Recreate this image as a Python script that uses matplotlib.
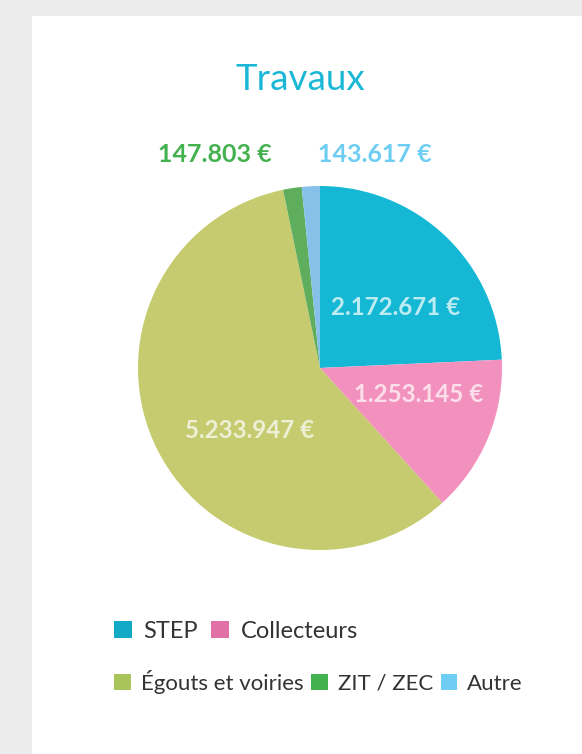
import matplotlib.pyplot as plt
from matplotlib.patches import Patch, Rectangle

# Données
categories = ["STEP", "Collecteurs", "Égouts et voiries", "ZIT / ZEC", "Autre"]
montants = [2172671, 1253145, 5233947, 147803, 143617]
etiquettes = ["2.172.671 €", "1.253.145 €", "5.233.947 €", "147.803 €", "143.617 €"]

couleurs_pie = ["#14b8d4", "#f291bd", "#c5cb6e", "#5fae5e", "#85c1e9"]
couleurs_legende = ["#12a9c6", "#e070a6", "#a9c45a", "#44b14f", "#6dcdf3"]

W, H = 582, 754
fig = plt.figure(figsize=(W / 100, H / 100), dpi=100)
fig.patch.set_facecolor("#ececec")

# panneau blanc
fig.add_artist(Rectangle((32 / W, 0), 1 - 32 / W, 1 - 16 / H,
                         transform=fig.transFigure, facecolor="white",
                         edgecolor="none", zorder=0))

fig.text(300 / W, 1 - 79 / H, "Travaux", ha="center", va="center",
         fontsize=26.5, color="#1ab8d6", family="Lato")

# camembert : centre (320, 368), rayon 182 px
cx, cy, r = 320, 368, 182
ax = fig.add_axes([(cx - r) / W, (H - cy - r) / H, 2 * r / W, 2 * r / H])
ax.pie(montants, colors=couleurs_pie, startangle=90, counterclock=False,
       wedgeprops={"linewidth": 0})
ax.set_xlim(-1, 1)
ax.set_ylim(-1, 1)
ax.set_aspect("equal")

# positions des étiquettes (pixels)
pos_labels = [(396, 308), (419, 395), (250, 431), (215, 155), (375, 155)]
for i, (lbl, (px, py)) in enumerate(zip(etiquettes, pos_labels)):
    x = (px - cx) / r
    y = (cy - py) / r
    if i < 3:
        ax.text(x, y, lbl, ha="center", va="center", fontsize=17.4,
                fontweight="bold", family="Lato", color="white", alpha=0.72)
    else:
        ax.text(x, y, lbl, ha="center", va="center", fontsize=18,
                fontweight="bold", family="Lato", color=couleurs_legende[i])

handles = [Patch(facecolor=c, edgecolor="none") for c in couleurs_legende]

opts = dict(loc="center left", frameon=False, borderpad=0, borderaxespad=0,
            handlelength=0.75, handleheight=0.75, labelcolor="#333333")
leg1 = fig.legend(handles[:2], categories[:2], ncol=2,
                  bbox_to_anchor=(114 / W, 1 - 631 / H),
                  handletextpad=0.5, columnspacing=0.55,
                  prop={"family": "Lato", "size": 17}, **opts)
leg2 = fig.legend(handles[2:], categories[2:], ncol=3,
                  bbox_to_anchor=(114 / W, 1 - 682 / H),
                  handletextpad=0.45, columnspacing=0.35,
                  prop={"family": "Lato", "size": 16}, **opts)

fig.savefig("out.png", dpi=100, facecolor=fig.get_facecolor())
